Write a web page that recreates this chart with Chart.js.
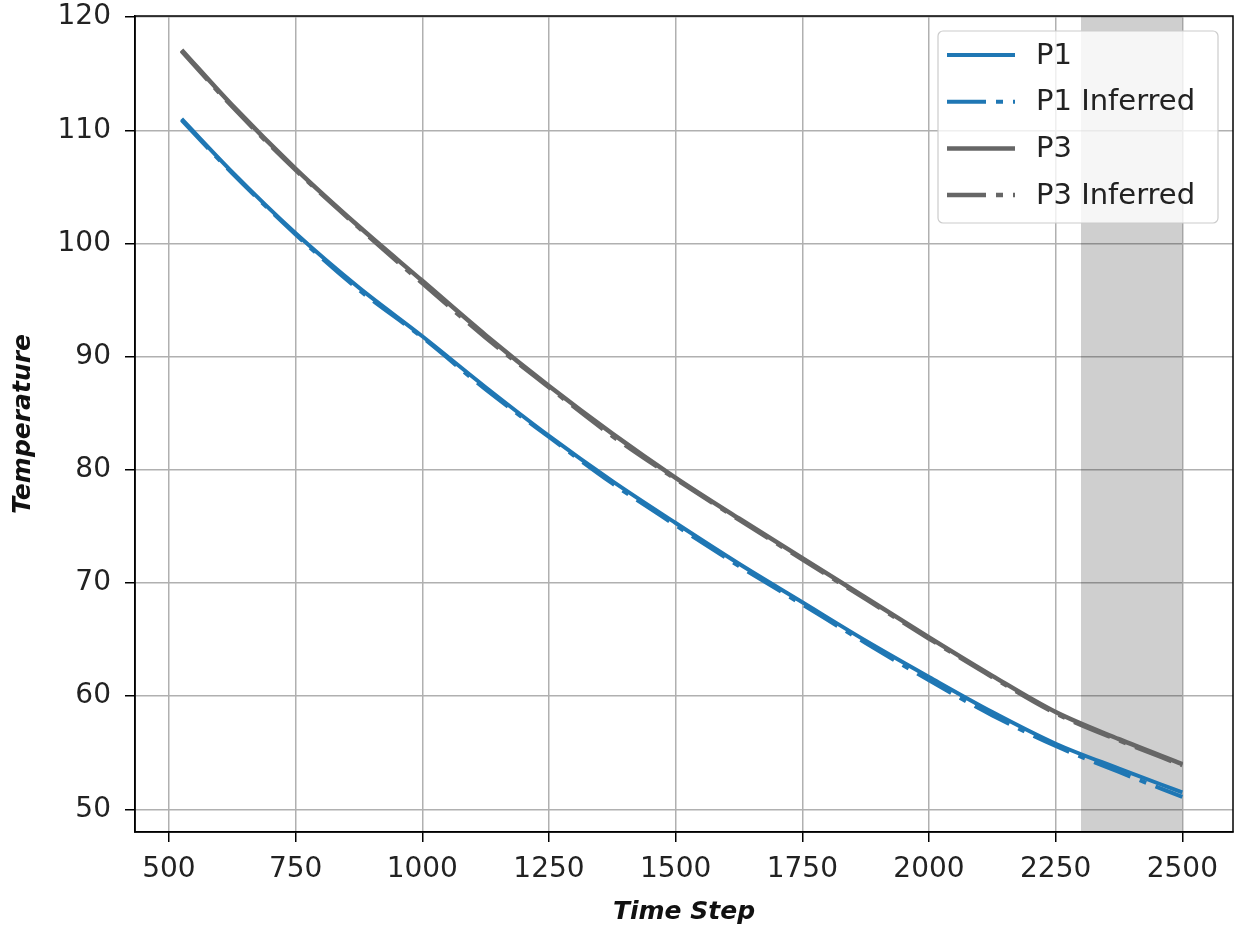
<!doctype html>
<html lang="en">
  <head>
    <meta charset="utf-8">
    <title>Temperature vs Time Step</title>
    <script src="https://cdn.jsdelivr.net/npm/chart.js"></script>
    <style>
      html, body { margin: 0; padding: 0; background: #fff; }
      #wrap { width: 1242px; height: 937px; }
    </style>
  </head>
  <body>
  <div id="wrap">
    <canvas id="myChart" width="1242" height="937"></canvas>
  </div>
  <script>
    // values
    const steps      = [525, 625, 750, 875, 1000, 1125, 1250, 1375, 1500, 1625, 1750, 1875, 2000, 2125, 2250, 2375, 2500];
    const p1         = [111.0, 106.3, 100.9, 96.1, 91.8, 87.3, 83.0, 79.0, 75.3, 71.7, 68.3, 64.9, 61.7, 58.6, 55.8, 53.6, 51.5];
    const p1Inferred = [110.9, 106.2, 100.8, 95.9, 91.7, 87.1, 82.9, 78.8, 75.1, 71.5, 68.1, 64.7, 61.4, 58.3, 55.6, 53.3, 51.1];
    const p3         = [117.1, 112.2, 106.6, 101.5, 96.7, 91.9, 87.4, 83.2, 79.3, 75.7, 72.2, 68.7, 65.2, 61.8, 58.6, 56.2, 54.0];
    const p3Inferred = [117.0, 112.1, 106.5, 101.4, 96.5, 91.7, 87.3, 83.0, 79.2, 75.6, 72.1, 68.6, 65.1, 61.7, 58.5, 56.1, 53.9];
    const xTicks = [500, 750, 1000, 1250, 1500, 1750, 2000, 2250, 2500];
    const yTicks = [50, 60, 70, 80, 90, 100, 110, 120];
    const shadeFrom = 2300;
    const shadeTo = 2500;

    const blue = '#1f77b4';
    const grey = '#666666';
    const dashDot = [39, 10, 7, 10];

    function pts(vals) {
        return steps.map((s, i) => ({x: s, y: vals[i]}));
    }

    const shadePlugin = {
        id: 'shade',
        beforeDatasetsDraw: (chart) => {
            const ctx = chart.ctx;
            const x = chart.scales.x;
            const a = chart.chartArea;
            const x0 = x.getPixelForValue(shadeFrom);
            const x1 = x.getPixelForValue(shadeTo);
            ctx.save();
            ctx.fillStyle = 'rgba(0,0,0,0.19)';
            ctx.fillRect(x0, a.top, x1 - x0, a.bottom - a.top);
            ctx.restore();
        }
    };

    const framePlugin = {
        id: 'frame',
        afterDraw: (chart) => {
            const ctx = chart.ctx;
            const a = chart.chartArea;
            ctx.save();
            ctx.strokeStyle = '#000';
            ctx.lineWidth = 1.5;
            ctx.strokeRect(a.left, a.top, a.right - a.left, a.bottom - a.top);

            // legend box, matplotlib style
            const bx = 938, by = 31, bw = 280, bh = 192, r = 5;
            ctx.beginPath();
            ctx.roundRect(bx, by, bw, bh, r);
            ctx.fillStyle = 'rgba(255,255,255,0.8)';
            ctx.fill();
            ctx.strokeStyle = '#cccccc';
            ctx.lineWidth = 1.2;
            ctx.stroke();

            ctx.font = '29px "DejaVu Sans"';
            ctx.textBaseline = 'middle';
            ctx.fillStyle = '#222';
            chart.data.datasets.forEach((ds, i) => {
                const y = 55 + i * 46.7;
                ctx.beginPath();
                ctx.setLineDash(ds.borderDash || []);
                ctx.strokeStyle = ds.borderColor;
                ctx.lineWidth = ds.borderWidth;
                ctx.moveTo(947, y);
                ctx.lineTo(1015, y);
                ctx.stroke();
                ctx.setLineDash([]);
                ctx.fillText(ds.label, 1036, y + 1);
            });
            ctx.restore();
        }
    };

    const ctx = document.getElementById('myChart');

    const myChart = new Chart(ctx, {
        type: 'line',
        data: {
            datasets: [
                {label: 'P1', data: pts(p1), borderColor: blue, borderWidth: 4, order: 4},
                {label: 'P1 Inferred', data: pts(p1Inferred), borderColor: blue, borderWidth: 4, borderDash: dashDot, order: 3},
                {label: 'P3', data: pts(p3), borderColor: grey, borderWidth: 4.5, order: 2},
                {label: 'P3 Inferred', data: pts(p3Inferred), borderColor: grey, borderWidth: 4.5, borderDash: dashDot, order: 1}
            ]
        },
        plugins: [shadePlugin, framePlugin],
        options: {
            responsive: false,
            animation: false,
            elements: {
                point: {radius: 0},
                line: {cubicInterpolationMode: 'monotone', fill: false, borderCapStyle: 'butt'}
            },
            layout: {padding: {left: 0, right: 9, top: 16, bottom: 0}},
            plugins: {
                legend: {display: false},
                tooltip: {enabled: false}
            },
            scales: {
                x: {
                    type: 'linear',
                    min: 433,
                    max: 2600,
                    afterFit: (s) => {
                        s.height = 105;
                        s.paddingLeft = 0;
                        s.paddingRight = 0;
                    },
                    afterBuildTicks: (s) => { s.ticks = xTicks.map(v => ({value: v})); },
                    grid: {color: '#b0b0b0', lineWidth: 1.5, tickColor: '#000', tickLength: 10, tickWidth: 1.5},
                    border: {color: '#000', width: 1.5},
                    ticks: {color: '#222', font: {family: 'DejaVu Sans', size: 28}, padding: 11, maxRotation: 0,
                            callback: (v) => String(v)},
                    title: {
                        display: true,
                        text: 'Time Step',
                        color: '#111',
                        font: {family: '"Comic Sans MS", "DejaVu Sans"', size: 25, style: 'italic', weight: 'bold'},
                        padding: {top: 0, bottom: 10}
                    }
                },
                y: {
                    type: 'linear',
                    min: 48.0,
                    max: 120.1,
                    afterFit: (s) => {
                        s.width = 135;
                        s.paddingTop = 0;
                        s.paddingBottom = 0;
                    },
                    afterBuildTicks: (s) => { s.ticks = yTicks.map(v => ({value: v})); },
                    grid: {color: '#b0b0b0', lineWidth: 1.5, tickColor: '#000', tickLength: 10, tickWidth: 1.5},
                    border: {color: '#000', width: 1.5},
                    ticks: {color: '#222', font: {family: 'DejaVu Sans', size: 28}, padding: 14,
                            callback: (v) => String(v)},
                    title: {
                        display: true,
                        text: 'Temperature',
                        color: '#111',
                        font: {family: '"Comic Sans MS", "DejaVu Sans"', size: 25, style: 'italic', weight: 'bold'},
                        padding: {top: 8, bottom: 0}
                    }
                }
            }
        }
    });
  </script>
  </body>
</html>
